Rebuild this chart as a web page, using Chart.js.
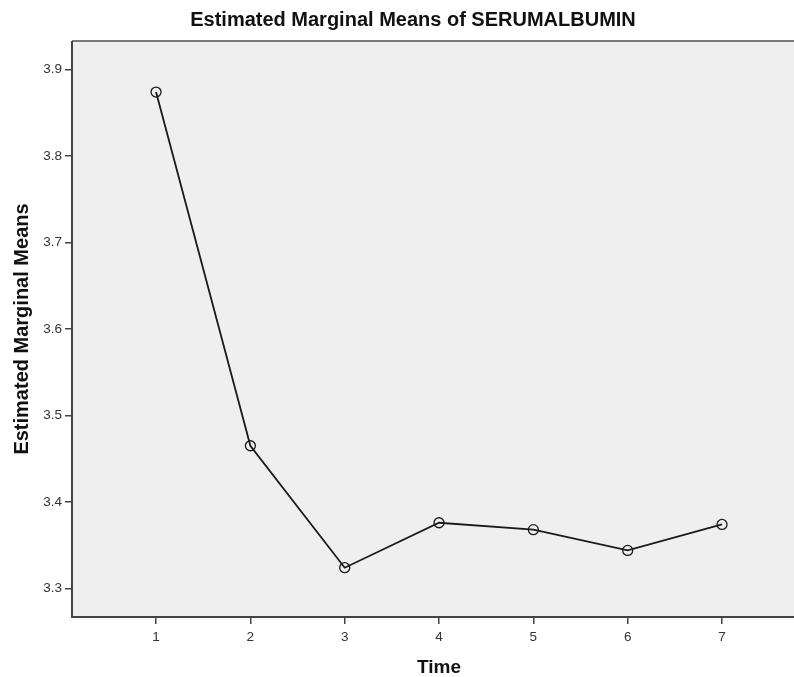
<!DOCTYPE html>
<html>
<head>
<meta charset="utf-8">
<script src="https://cdn.jsdelivr.net/npm/chart.js@4/dist/chart.umd.min.js"></script>
<style>
html,body{margin:0;padding:0;background:#fff;overflow:hidden;}
#wrap{position:relative;width:794px;height:677px;}
</style>
</head>
<body>
<div id="wrap"><canvas id="c" width="794" height="677"></canvas></div>
<script>
const chartTitle = "Estimated Marginal Means of SERUMALBUMIN";
const xTitle = "Time";
const yTitle = "Estimated Marginal Means";
const timePoints = [1, 2, 3, 4, 5, 6, 7];
const meanValues = [3.874, 3.465, 3.324, 3.376, 3.368, 3.344, 3.374];
const yTickValues = [3.3, 3.4, 3.5, 3.6, 3.7, 3.8, 3.9];

const FONT = "'Liberation Sans', Arial, sans-serif";

const framePlugin = {
  id: 'frame',
  beforeDatasetsDraw(chart) {
    const {ctx, chartArea: a} = chart;
    ctx.save();
    ctx.fillStyle = '#efefef';
    ctx.fillRect(a.left, a.top, a.right - a.left, a.bottom - a.top);
    ctx.restore();
  },
  afterDraw(chart) {
    const {ctx, chartArea: a} = chart;
    ctx.save();
    ctx.strokeStyle = '#7a7a7a';
    ctx.lineWidth = 2;
    ctx.beginPath();
    ctx.moveTo(a.left, a.top);
    ctx.lineTo(chart.width, a.top);
    ctx.stroke();
    ctx.strokeStyle = '#444';
    ctx.lineWidth = 2;
    ctx.beginPath();
    ctx.moveTo(a.left, a.top);
    ctx.lineTo(a.left, a.bottom);
    ctx.lineTo(chart.width, a.bottom);
    ctx.stroke();
    // titles
    ctx.fillStyle = '#111';
    ctx.textAlign = 'center';
    ctx.textBaseline = 'middle';
    ctx.font = "bold 20px " + FONT;
    ctx.fillText(chartTitle, 413, 20);
    ctx.font = "bold 19px " + FONT;
    ctx.fillText(xTitle, 439, 668);
    ctx.font = "bold 20px " + FONT;
    ctx.translate(22, 329);
    ctx.rotate(-Math.PI / 2);
    ctx.fillText(yTitle, 0, 0);
    ctx.restore();
  }
};

new Chart(document.getElementById('c'), {
  type: 'line',
  data: {
    datasets: [{
      data: timePoints.map((t, i) => ({x: t, y: meanValues[i]})),
      borderColor: '#1a1a1a',
      borderWidth: 1.8,
      pointRadius: 5,
      pointBorderWidth: 1.3,
      pointBorderColor: '#1a1a1a',
      pointBackgroundColor: 'rgba(0,0,0,0)',
      tension: 0
    }]
  },
  options: {
    responsive: false,
    animation: false,
    layout: {autoPadding: false, padding: {top: 41, right: 0, left: 0, bottom: 0}},
    plugins: {legend: {display: false}, tooltip: {enabled: false}, title: {display: false}},
    scales: {
      x: {
        type: 'linear',
        min: 0.109,
        max: 7.763,
        afterBuildTicks(s) { s.ticks = timePoints.map(v => ({value: v})); },
        afterFit(s) { s.height = 60; s.paddingLeft = 0; s.paddingRight = 0; },
        grid: {drawOnChartArea: false, drawTicks: true, tickLength: 7, color: '#444', lineWidth: 1.5},
        border: {display: false},
        ticks: {color: '#333', font: {family: FONT, size: 13.5}, padding: 5, maxRotation: 0, autoSkip: false}
      },
      y: {
        type: 'linear',
        min: 3.267,
        max: 3.933,
        afterBuildTicks(s) { s.ticks = yTickValues.map(v => ({value: v})); },
        afterFit(s) { s.width = 72; s.paddingTop = 0; s.paddingBottom = 0; },
        grid: {drawOnChartArea: false, drawTicks: true, tickLength: 7, color: '#444', lineWidth: 1.5},
        border: {display: false},
        ticks: {color: '#333', font: {family: FONT, size: 13.5}, padding: 3, callback: v => v.toFixed(1)}
      }
    }
  },
  plugins: [framePlugin]
});
</script>
</body>
</html>
